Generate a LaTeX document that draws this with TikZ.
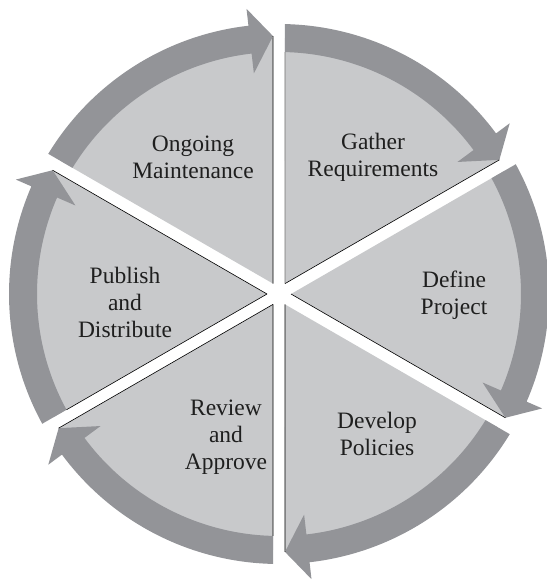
\documentclass[tikz,border=0pt]{standalone}
\usepackage{fontspec}
\setmainfont{Liberation Serif}
\definecolor{wedgegray}{HTML}{C8C9CB}
\definecolor{bandgray}{HTML}{939498}
\tikzset{
  wedge/.style={fill=wedgegray},
  band/.style={fill=bandgray},
  edgeline/.style={line width=0.6pt},
  steplabel/.style={align=center,font=\fontsize{23.5}{27}\selectfont,text=black!88}
}

\begin{document}
\begin{tikzpicture}
\useasboundingbox (-279pt,-286pt) rectangle (267pt,294pt);

% six wedges, each with an arrow band running clockwise
\foreach \sa/\startcol in {90/black!55,30/none,-30/none,-90/black,-150/black,150/none}{
  \pgfmathsetmacro\ea{\sa-60}
  \pgfmathsetmacro\mid{\sa-30}
  \pgfmathsetmacro\wa{\sa-asin(6/256)}
  \pgfmathsetmacro\wb{\ea+asin(6/256)}
  \pgfmathsetmacro\oa{\sa-asin(6/270)}
  \pgfmathsetmacro\ia{\sa-asin(6/242)}
  \pgfmathsetmacro\hb{\ea+6.5}
  \pgfmathsetmacro\tip{\ea+asin(6/258)}
  \fill[wedge] (\mid:12pt) -- (\wa:256pt) arc[start angle=\wa,end angle=\wb,radius=256pt] -- cycle;
  \fill[band] (\oa:270pt) arc[start angle=\oa,end angle=\hb,radius=270pt]
    -- (\hb:287pt) -- (\tip:258pt) -- (\hb:222pt) -- (\hb:242pt)
    arc[start angle=\hb,end angle=\ia,radius=242pt] -- cycle;
  \draw[edgeline] (\mid:12pt) -- (\tip:258pt);
  \draw[edgeline,draw=\startcol] (\mid:12pt) -- (\ia:242pt);
}

\node[steplabel] (gather) at (94pt,137pt) {Gather\\Requirements};
\node[steplabel] (define) at (175pt,-1pt) {Define\\Project};
\node[steplabel] (develop) at (98pt,-140pt) {Develop\\Policies};
\node[steplabel] (review) at (-53pt,-143pt) {Review\\and\\Approve};
\node[steplabel] (publish) at (-154pt,-8pt) {Publish\\and\\Distribute};
\node[steplabel] (ongoing) at (-86pt,137pt) {Ongoing\\Maintenance};

\end{tikzpicture}
\end{document}
